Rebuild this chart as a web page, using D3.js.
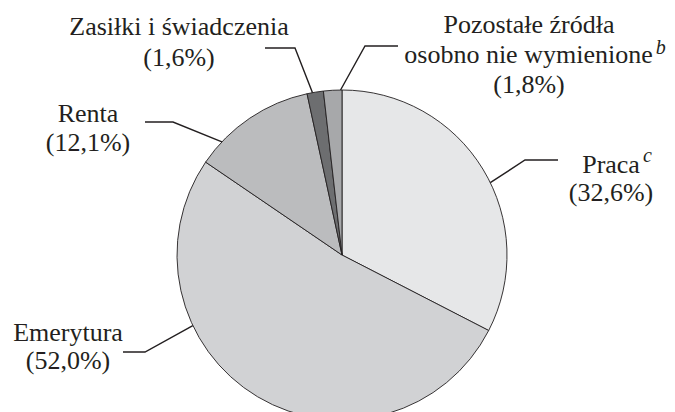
<!DOCTYPE html>
<html>
<head>
<meta charset="utf-8">
<script src="https://cdn.jsdelivr.net/npm/d3@7"></script>
</head>
<body style="margin:0">
<svg id="chart" width="675" height="412"></svg>
<script>
// Źródła utrzymania – udział procentowy
const categories = ["Praca", "Emerytura", "Renta", "Zasiłki i świadczenia", "Pozostałe źródła osobno nie wymienione"];
const values = [32.6, 52.0, 12.1, 1.6, 1.8];
const colors = ["#e6e7e8", "#d1d2d4", "#bbbcbe", "#6d6e70", "#a7a8aa"];

// Label text lines (last line holds the percentage) and optional footnote marks
const labelLines = [
  ["Praca", "(32,6%)"],
  ["Emerytura", "(52,0%)"],
  ["Renta", "(12,1%)"],
  ["Zasiłki i świadczenia", "(1,6%)"],
  ["Pozostałe źródła", "osobno nie wymienione", "(1,8%)"]
];
const footnotes = ["c", null, null, null, "b"];

// Label layout: anchor angle on the rim (deg), elbow & end of leader, text centre, first baseline, line step;
// a footnote line is nudged right so the word itself stays centred
const labelLayout = [
  { angle: 64,    elbow: [525, 160], end: [558, 160], tx: 611, ty: 173, lh: 28, sup: { line: 0, dy: -11, shift: 6 } },
  { angle: 244.7, elbow: [145, 352], end: [123, 352], tx: 68,  ty: 341, lh: 28 },
  { angle: 313.3, elbow: [173, 122], end: [145, 122], tx: 88,  ty: 122, lh: 29 },
  { angle: 349.7, elbow: [295, 48],  end: [265, 48],  tx: 179, ty: 35,  lh: 31 },
  { angle: 359.5, elbow: [365, 46],  end: [398, 46],  tx: 529, ty: 33,  lh: 30, sup: { line: 1, dy: -9, shift: 6 } }
];

const cx = 342, cy = 255, radius = 165;

const svg = d3.select("#chart");
const g = svg.append("g").attr("transform", `translate(${cx},${cy})`);

const pie = d3.pie().sort(null).value(d => d)(values);
const arc = d3.arc().innerRadius(0).outerRadius(radius);

g.selectAll("path.slice")
  .data(pie)
  .join("path")
  .attr("class", "slice")
  .attr("d", arc)
  .attr("fill", (d, i) => colors[i])
  .attr("stroke", "#231f20")
  .attr("stroke-width", 0.9)
  .attr("stroke-linejoin", "round");

// Leader lines from the rim to the label
labelLayout.forEach((L, i) => {
  const a = L.angle * Math.PI / 180;
  const ax = cx + radius * Math.sin(a);
  const ay = cy - radius * Math.cos(a);
  svg.append("polyline")
    .attr("points", [[ax, ay], L.elbow, L.end].map(p => p.join(",")).join(" "))
    .attr("fill", "none")
    .attr("stroke", "#231f20")
    .attr("stroke-width", 1.4);
});

// Labels: one text per line; a footnote mark rides on its line
labelLayout.forEach((L, i) => {
  labelLines[i].forEach((line, k) => {
    const hasSup = footnotes[i] && L.sup.line === k;
    const t = svg.append("text")
      .attr("x", L.tx + (hasSup ? L.sup.shift : 0))
      .attr("y", L.ty + k * L.lh)
      .attr("text-anchor", "middle")
      .attr("font-family", "Liberation Serif")
      .attr("font-size", 26)
      .attr("fill", "#231f20");
    t.append("tspan").text(line);
    if (hasSup) {
      t.append("tspan")
        .attr("dx", 3)
        .attr("dy", L.sup.dy)
        .attr("font-size", 20)
        .attr("font-style", "italic")
        .text(footnotes[i]);
    }
  });
});
</script>
</body>
</html>
